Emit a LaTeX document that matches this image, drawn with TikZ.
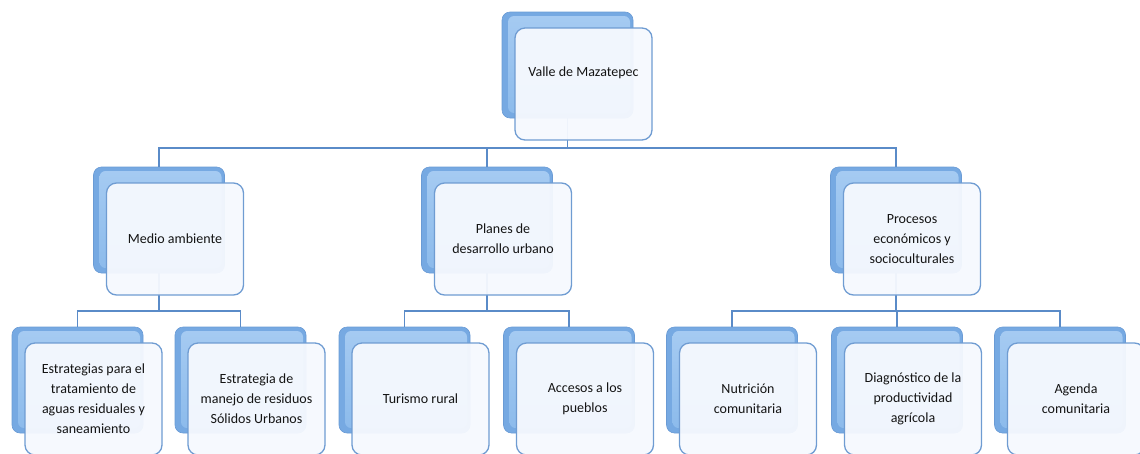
\documentclass[tikz,border=0pt]{standalone}
\usepackage{fontspec}
\setmainfont{Carlito}
\usepackage{tikz}
\usetikzlibrary{positioning,calc}
\definecolor{azulfondo}{HTML}{76A9E2}
\definecolor{azulclaro}{HTML}{A6CBF2}
\definecolor{azulmedio}{HTML}{8BBAEB}
\definecolor{azulborde}{HTML}{6A9BD5}
\definecolor{bordecaja}{HTML}{6F9CD2}
\definecolor{rellenocaja}{HTML}{F6F9FE}
\definecolor{linea}{HTML}{5A8BC8}
\definecolor{texto}{HTML}{141414}
\tikzstyle{fondo} = [rectangle, rounded corners=8pt, minimum width=131pt, minimum height=106pt, inner sep=0pt, fill=azulfondo, draw=azulborde, line width=0.6pt,
  path picture={\fill[top color=azulclaro, bottom color=azulmedio, rounded corners=6pt]
    ([xshift=6pt,yshift=-4pt]path picture bounding box.north west) rectangle ([xshift=-3pt,yshift=5pt]path picture bounding box.south east);}]
\tikzstyle{tarjeta} = [rectangle, rounded corners=10pt, minimum width=137pt, minimum height=112pt, inner sep=4pt, fill=rellenocaja, fill opacity=0.95, text opacity=1,
  draw=bordecaja, line width=1.3pt, align=center, text=texto, font=\fontsize{14}{20}\selectfont]
\tikzstyle{conector} = [draw=linea, line width=1.2pt]

\begin{document}
\begin{tikzpicture}[x=1pt,y=-1pt]
\useasboundingbox (0,0) rectangle (1140,453);
% fondos azules
\node[fondo] (f-valle) at (567.5,65) {};
\node[fondo] (f-medio) at (159,220) {};
\node[fondo] (f-planes) at (487,220) {};
\node[fondo] (f-procesos) at (896,220) {};
\node[fondo] (f-aguas) at (77.5,380) {};
\node[fondo] (f-residuos) at (240.5,380) {};
\node[fondo] (f-turismo) at (404.5,380) {};
\node[fondo] (f-accesos) at (569,380) {};
\node[fondo] (f-nutricion) at (732,380) {};
\node[fondo] (f-diagnostico) at (897,380) {};
\node[fondo] (f-agenda) at (1060,380) {};
% conectores
\coordinate (bus1) at (0,148);
\coordinate (bus2) at (0,311);
\foreach \h in {medio,planes,procesos}
  \draw[conector] (f-valle.south) -- (f-valle.south |- bus1) -| (f-\h.north);
\foreach \h in {aguas,residuos}
  \draw[conector] (f-medio.south) -- (f-medio.south |- bus2) -| (f-\h.north);
\foreach \h in {turismo,accesos}
  \draw[conector] (f-planes.south) -- (f-planes.south |- bus2) -| (f-\h.north);
\foreach \h in {nutricion,diagnostico,agenda}
  \draw[conector] (f-procesos.south) -- (f-procesos.south |- bus2) -| (f-\h.north);
% cajas
\node[tarjeta, text depth=25pt] (valle) at ([xshift=16pt,yshift=-19pt]f-valle.center) {Valle de Mazatepec};
\node[tarjeta] (medio) at ([xshift=16pt,yshift=-19pt]f-medio.center) {Medio ambiente};
\node[tarjeta] (planes) at ([xshift=16pt,yshift=-19pt]f-planes.center) {Planes de\\desarrollo urbano};
\node[tarjeta] (procesos) at ([xshift=16pt,yshift=-19pt]f-procesos.center) {Procesos\\económicos y\\socioculturales};
\node[tarjeta] (aguas) at ([xshift=16pt,yshift=-19pt]f-aguas.center) {Estrategias para el\\tratamiento de\\aguas residuales y\\saneamiento};
\node[tarjeta] (residuos) at ([xshift=16pt,yshift=-19pt]f-residuos.center) {Estrategia de\\manejo de residuos\\Sólidos Urbanos};
\node[tarjeta] (turismo) at ([xshift=16pt,yshift=-19pt]f-turismo.center) {Turismo rural};
\node[tarjeta] (accesos) at ([xshift=16pt,yshift=-19pt]f-accesos.center) {Accesos a los\\pueblos};
\node[tarjeta] (nutricion) at ([xshift=16pt,yshift=-19pt]f-nutricion.center) {Nutrición\\comunitaria};
\node[tarjeta] (diagnostico) at ([xshift=16pt,yshift=-19pt]f-diagnostico.center) {Diagnóstico de la\\productividad\\agrícola};
\node[tarjeta] (agenda) at ([xshift=16pt,yshift=-19pt]f-agenda.center) {Agenda\\comunitaria};
\end{tikzpicture}
\end{document}
